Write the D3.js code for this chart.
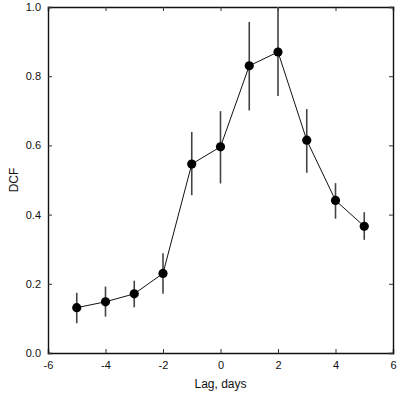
<!DOCTYPE html>
<html>
<head>
<meta charset="utf-8">
<script src="https://d3js.org/d3.v7.min.js"></script>
<style>
  body { margin: 0; background: #fff; }
  text { font-family: "Liberation Sans", Arial, sans-serif; fill: #111; }
</style>
</head>
<body>
<script>
// DCF vs lag
var lags  = [-5, -4, -3, -2, -1, 0, 1, 2, 3, 4, 5];
var dcf   = [0.131, 0.148, 0.171, 0.230, 0.546, 0.596, 0.830, 0.870, 0.615, 0.441, 0.366];
var errLo = [0.086, 0.105, 0.132, 0.171, 0.456, 0.490, 0.701, 0.743, 0.521, 0.388, 0.327];
var errHi = [0.174, 0.192, 0.209, 0.288, 0.639, 0.699, 0.957, 1.000, 0.705, 0.491, 0.407];
var xTicks = [-6, -4, -2, 0, 2, 4, 6];
var yTicks = [0.0, 0.2, 0.4, 0.6, 0.8, 1.0];

var W = 409, H = 399;
var m = {left: 48, right: 16, top: 7, bottom: 46};

var svg = d3.select("body").append("svg")
  .attr("width", W).attr("height", H);

var x = d3.scaleLinear().domain([-6, 6]).range([m.left, W - m.right]);
var y = d3.scaleLinear().domain([0, 1]).range([H - m.bottom, m.top]);

var data = lags.map(function(l, i) {
  return {lag: l, v: dcf[i], lo: errLo[i], hi: errHi[i]};
});

// plain hyphen for negatives, like the original
var fmtX = function(d) { return String(d); };

// axes with inward ticks on all four sides
svg.append("g").attr("transform", "translate(0," + y(0) + ")")
  .call(d3.axisBottom(x).tickValues(xTicks).tickSize(-4).tickPadding(8)
    .tickFormat(fmtX));
svg.append("g").attr("transform", "translate(0," + y(1) + ")")
  .call(d3.axisTop(x).tickValues(xTicks).tickSize(-4).tickFormat(""));
svg.append("g").attr("transform", "translate(" + x(-6) + ",0)")
  .call(d3.axisLeft(y).tickValues(yTicks).tickSize(-4).tickPadding(7)
    .tickFormat(function(d) { return d.toFixed(1); }));
svg.append("g").attr("transform", "translate(" + x(6) + ",0)")
  .call(d3.axisRight(y).tickValues(yTicks).tickSize(-4).tickFormat(""));

svg.selectAll(".domain").attr("stroke", "#111").attr("stroke-width", 1.4);
svg.selectAll(".tick line").attr("stroke", "#333");
svg.selectAll(".tick text").style("font-size", "11px").attr("fill", "#222");

// error bars
svg.append("g").selectAll("line").data(data).enter().append("line")
  .attr("x1", function(d) { return x(d.lag); })
  .attr("x2", function(d) { return x(d.lag); })
  .attr("y1", function(d) { return y(d.lo); })
  .attr("y2", function(d) { return y(d.hi); })
  .attr("stroke", "#444").attr("stroke-width", 1.6);

// connecting line
svg.append("path").datum(data)
  .attr("fill", "none").attr("stroke", "#111").attr("stroke-width", 1)
  .attr("d", d3.line().x(function(d) { return x(d.lag); }).y(function(d) { return y(d.v); }));

// markers
svg.append("g").selectAll("circle").data(data).enter().append("circle")
  .attr("cx", function(d) { return x(d.lag); })
  .attr("cy", function(d) { return y(d.v); })
  .attr("r", 4.6).attr("fill", "#000");

// axis titles
svg.append("text").attr("x", (x(-6) + x(6)) / 2).attr("y", 388)
  .attr("text-anchor", "middle").style("font-size", "12px").text("Lag, days");
svg.append("text").attr("transform", "translate(18," + y(0.5) + ") rotate(-90)")
  .attr("text-anchor", "middle").style("font-size", "12px").text("DCF");
</script>
</body>
</html>
